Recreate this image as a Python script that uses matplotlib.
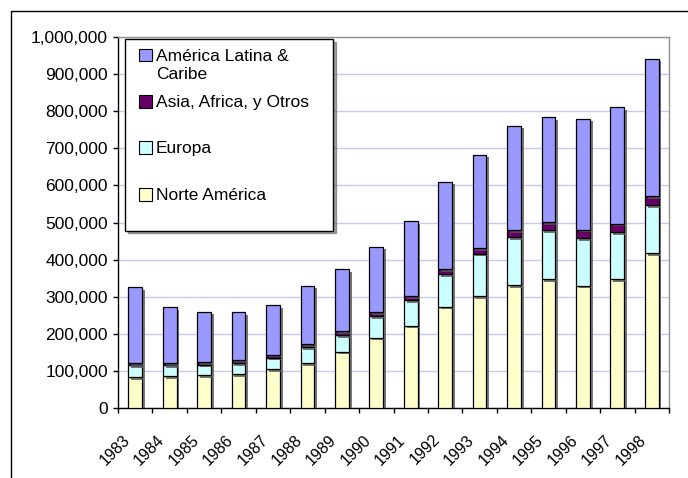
import matplotlib
matplotlib.use("Agg")
import matplotlib.pyplot as plt
import numpy as np
from matplotlib.patches import Rectangle
import matplotlib.patheffects as pe
import matplotlib.transforms as mtransforms
from matplotlib.ticker import FuncFormatter, MultipleLocator, FixedLocator

years = ["1983", "1984", "1985", "1986", "1987", "1988", "1989", "1990",
         "1991", "1992", "1993", "1994", "1995", "1996", "1997", "1998"]
norte_america = [84000, 87000, 89000, 92000, 104000, 122000, 152000, 190000,
                 222000, 273000, 302000, 332000, 348000, 330000, 348000, 418000]
europa = [31000, 28000, 28000, 29000, 32000, 42000, 45000, 58000,
          68000, 88000, 114000, 129000, 132000, 128000, 126000, 128000]
asia_africa = [6000, 6000, 7000, 8000, 8000, 9000, 10000, 11000,
               12000, 14000, 15000, 18000, 21000, 23000, 23000, 25000]
america_latina = [205000, 151000, 136000, 130000, 133000, 157000, 168000, 176000,
                  202000, 235000, 252000, 282000, 283000, 299000, 314000, 371000]

series = [
    ("Norte América", norte_america, "#FFFFCC"),
    ("Europa", europa, "#CCFFFF"),
    ("Asia, Africa, y Otros", asia_africa, "#660066"),
    ("América Latina & Caribe", america_latina, "#9999FF"),
]
legend_labels = {
    "América Latina & Caribe": "América Latina &\nCaribe",
    "Asia, Africa, y Otros": "Asia, Africa, y Otros   \n ",
    "Europa": "Europa\n ",
    "Norte América": "Norte América\n ",
}

plt.rcParams["font.family"] = ["Liberation Sans", "DejaVu Sans"]
FS = 12.5
FSX = 11.5

W, H = 688, 478
fig = plt.figure(figsize=(W / 100, H / 100), dpi=100)
ax = fig.add_axes([118 / W, (H - 408) / H, (669 - 118) / W, (408 - 37) / H])

x = np.arange(len(years))
bottom = np.zeros(len(years))
shadow = [pe.SimplePatchShadow(offset=(2, -2), shadow_rgbFace="#555555", alpha=0.8), pe.Normal()]
handles = {}
for name, vals, col in series:
    bars = ax.bar(x, vals, width=0.4, bottom=bottom, color=col, edgecolor="black",
                  linewidth=0.9, label=name, zorder=3)
    for b in bars:
        b.set_path_effects(shadow)
    handles[name] = bars
    bottom = bottom + np.array(vals)

ax.set_xlim(-0.5, len(years) - 0.5)
ax.set_ylim(0, 1000000)
ax.yaxis.set_major_locator(MultipleLocator(100000))
ax.yaxis.set_major_formatter(FuncFormatter(lambda v, p: f"{int(v):,}"))
ax.grid(axis="y", color="#C8C8F8", linewidth=1.0, zorder=0)
ax.set_axisbelow(True)

ax.set_xticks(x)
ax.set_xticklabels([])
ax.xaxis.set_minor_locator(FixedLocator(np.arange(-0.5, len(years), 1.0)))
ax.tick_params(axis="x", which="major", length=0)
ax.tick_params(axis="x", which="minor", length=3.6, width=1, direction="out", color="black")
ax.tick_params(axis="y", length=3.6, width=1, direction="out", labelsize=FS, pad=3.6)

# rotated category labels, anchored below each category
lab_trans = ax.get_xaxis_transform() + mtransforms.ScaledTranslation(-13 / 100, -24 / 100, fig.dpi_scale_trans)
for xi, yr in zip(x, years):
    ax.text(xi, 0, yr, transform=lab_trans, rotation=45, ha="right", va="top",
            rotation_mode="anchor", fontsize=FSX, clip_on=False)

for s in ["left", "bottom"]:
    ax.spines[s].set_color("black")
    ax.spines[s].set_linewidth(1.0)
for s in ["top", "right"]:
    ax.spines[s].set_color("#909090")
    ax.spines[s].set_linewidth(1.0)

order = ["América Latina & Caribe", "Asia, Africa, y Otros", "Europa", "Norte América"]
leg = ax.legend([handles[n] for n in order], [legend_labels[n] for n in order], loc="upper left",
                bbox_to_anchor=(125 / W, (H - 39) / H), bbox_transform=fig.transFigure,
                borderaxespad=0, frameon=True, fancybox=False, shadow=True,
                framealpha=1, edgecolor="black", fontsize=FS,
                handlelength=0.98, handleheight=0.75, handletextpad=0.25,
                labelspacing=0.76, borderpad=0.55)
leg.get_frame().set_linewidth(1.0)
for t in leg.get_texts():
    t.set_linespacing(1.27)
for col in leg._legend_handle_box.get_children():
    for item in col.get_children():
        item.align = "top"
for h in leg.legend_handles:
    h.set_path_effects([])
    h.set_linewidth(0.8)
    h.set_x(h.get_x() + 3.4)
    h.set_width(9.4)

fig.add_artist(Rectangle((11 / W, -1), 2, 1 + (H - 11) / H, transform=fig.transFigure,
                         fill=False, edgecolor="black", linewidth=1.0))

fig.savefig("out.png", dpi=100)
